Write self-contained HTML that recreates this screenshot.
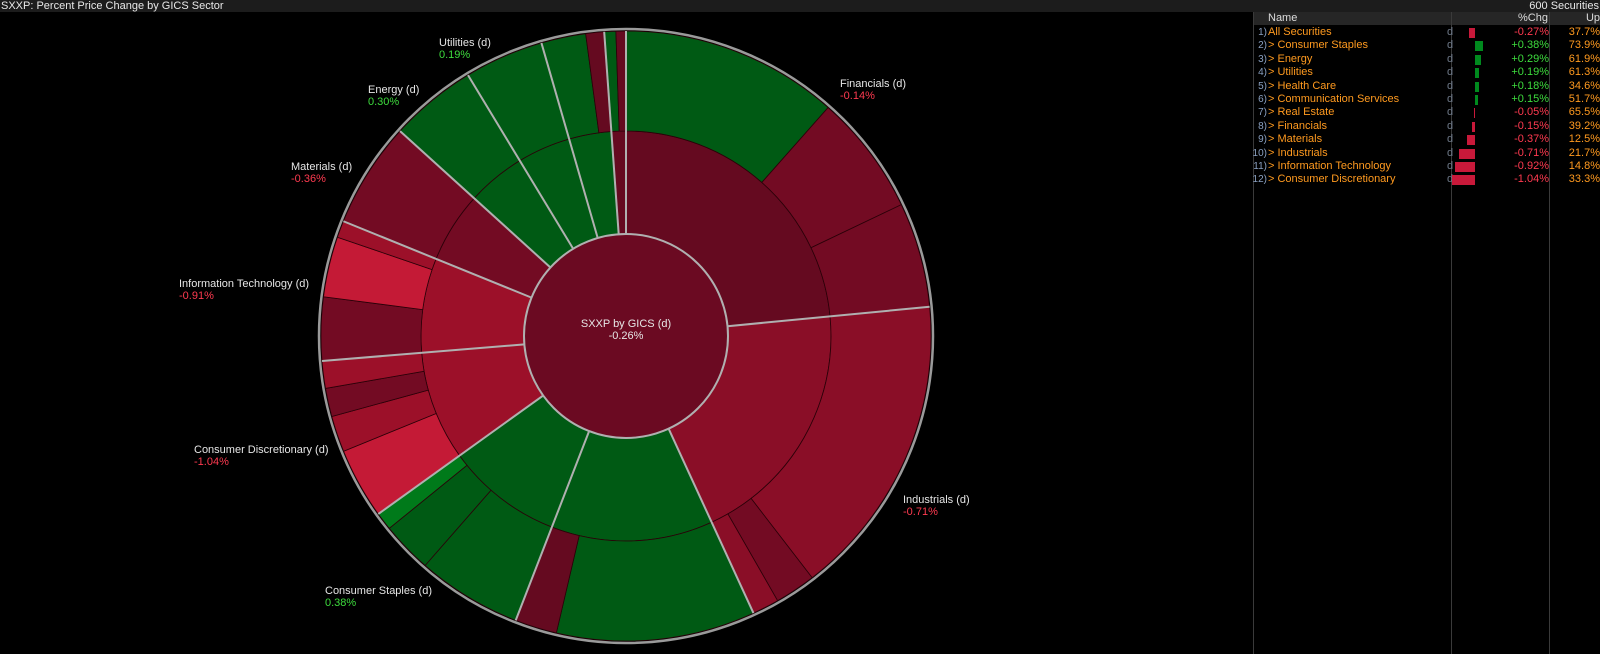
<!DOCTYPE html>
<html><head><meta charset="utf-8"><style>
body{margin:0;background:#000;width:1600px;height:654px;overflow:hidden;font-family:"Liberation Sans",sans-serif;position:relative}
.hdr{position:absolute;left:0;top:0;width:1600px;height:12px;background:#1c1c1c;color:#e8e8e8;font-size:11px;line-height:12px}
.lbl{position:absolute;font-size:11px;line-height:12px;color:#e6e6e6;white-space:nowrap}
.pos{color:#3ddc3d}.neg{color:#ff3a50}
#tbl{position:absolute;left:1253px;top:12px;width:347px;height:642px;border-left:1px solid #3a3a3a;font-size:11px}
.row{position:absolute;left:0;width:347px;height:13px;line-height:13px}
.c{position:absolute;white-space:nowrap}
</style></head><body>
<div class="hdr"><span style="position:absolute;left:1px">SXXP: Percent Price Change by GICS Sector</span><span style="position:absolute;right:1px">600 Securities</span></div>
<svg id="sun" width="1250" height="654" style="position:absolute;left:0;top:0"></svg>
<div class="lbl" style="left:439px;top:37px">Utilities (d)<br><span class="pos">0.19%</span></div>
<div class="lbl" style="left:368px;top:84px">Energy (d)<br><span class="pos">0.30%</span></div>
<div class="lbl" style="left:291px;top:161px">Materials (d)<br><span class="neg">-0.36%</span></div>
<div class="lbl" style="left:179px;top:278px">Information Technology (d)<br><span class="neg">-0.91%</span></div>
<div class="lbl" style="left:194px;top:444px">Consumer Discretionary (d)<br><span class="neg">-1.04%</span></div>
<div class="lbl" style="left:325px;top:585px">Consumer Staples (d)<br><span class="pos">0.38%</span></div>
<div class="lbl" style="left:840px;top:78px">Financials (d)<br><span class="neg">-0.14%</span></div>
<div class="lbl" style="left:903px;top:494px">Industrials (d)<br><span class="neg">-0.71%</span></div>
<div class="lbl" style="left:626px;top:318px;transform:translateX(-50%);text-align:center">SXXP by GICS (d)<br>-0.26%</div>
<div id="tbl"></div>
<script>
// sunburst data
const sectorSpans=[84.5,70.8,45.9,33.1,31,26.8,20.1,16.6,15.1,12,4.1];
const sectorChanges=[-0.14,-0.71,0.18,0.38,-1.04,-0.91,-0.36,0.29,0.19,0.15,-0.05];
const childSpans=[[41.5,23,20],[57.9,7.8,5.1],[37.9,8],[20,9.7,3.4],[13.5,6.9,5.4,5.2],[12.1,11.5,3.2],[20.1],[16.6],[15.1],[8.5,3.5],[2.2,1.9]];
const childChanges=[[0.3,-0.4,-0.3],[-0.75,-0.45,-0.7],[0.2,-0.1],[0.3,0.3,0.6],[-1.5,-1.0,-0.3,-1.1],[-0.3,-1.6,-1.0],[-0.36],[0.3],[0.2],[0.2,-0.1],[0.1,-0.1]];
const totalChange=-0.26;
const CX=626,CY=336,R1=102,R2=205,R3=305;
function col(v){if(v>=0.5)return'#007a1a';if(v>0)return'#005a14';if(v>-0.2)return'#650a20';if(v>-0.5)return'#730b23';if(v>-0.85)return'#8a0e27';if(v>-1.3)return'#9c1029';return'#c41a36';}
function pt(a,r){const t=(a-90)*Math.PI/180;return[CX+r*Math.cos(t),CY+r*Math.sin(t)];}
function arc(a0,a1,r0,r1){const p0=pt(a0,r1),p1=pt(a1,r1),p2=pt(a1,r0),p3=pt(a0,r0);const l=(a1-a0)>180?1:0;
return `M${p0[0]},${p0[1]}A${r1},${r1} 0 ${l} 1 ${p1[0]},${p1[1]}L${p2[0]},${p2[1]}A${r0},${r0} 0 ${l} 0 ${p3[0]},${p3[1]}Z`;}
const svg=document.getElementById('sun');const NS='http://www.w3.org/2000/svg';
function mk(tag,attrs){const e=document.createElementNS(NS,tag);for(const k in attrs)e.setAttribute(k,attrs[k]);svg.appendChild(e);return e;}
const tot=sectorSpans.reduce((a,b)=>a+b,0);
let a=0;const bounds=[];
sectorSpans.forEach((s,i)=>{const a0=a,a1=a+s/tot*360;bounds.push(a0);
 const m=mk('path',{d:arc(a0,a1,R1,R2),fill:col(sectorChanges[i]),stroke:'#2a0008','stroke-width':0.8});
 
 
 const cs=childSpans[i],ct=cs.reduce((x,y)=>x+y,0);let b=a0;
 cs.forEach((c,j)=>{const b1=b+c/ct*(a1-a0);
  const o=mk('path',{d:arc(b,b1,R2,R3),fill:col(childChanges[i][j]),stroke:'#2a0008','stroke-width':0.8});
  
  
  b=b1;});
 a=a1;});
bounds.forEach(b=>{const p=pt(b,R1),q=pt(b,R3);const l=mk('line',{x1:p[0],y1:p[1],x2:q[0],y2:q[1],stroke:'#b0b0b0','stroke-width':2});
 
 });
const cc=mk('circle',{cx:CX,cy:CY,r:R1,fill:'#6b0a22',stroke:'#b0b0b0','stroke-width':2});


const oc=mk('circle',{cx:CX,cy:CY,r:R3+2,fill:'none',stroke:'#9a9a9a','stroke-width':2.5});



// table data
const rowNames=['All Securities','Consumer Staples','Energy','Utilities','Health Care','Communication Services','Real Estate','Financials','Materials','Industrials','Information Technology','Consumer Discretionary'];
const rowChg=[-0.27,0.38,0.29,0.19,0.18,0.15,-0.05,-0.15,-0.37,-0.71,-0.92,-1.04];
const rowUp=[37.7,73.9,61.9,61.3,34.6,51.7,65.5,39.2,12.5,21.7,14.8,33.3];
const T=document.getElementById('tbl');
T.innerHTML='<div style="position:absolute;left:0;top:0;width:347px;height:13px;background:#262626"></div><div style="position:absolute;left:197px;top:0;width:1px;height:642px;background:#3a3a3a"></div><div style="position:absolute;left:295px;top:0;width:1px;height:642px;background:#3a3a3a"></div>'+
'<div class="c" style="left:14px;top:0;line-height:13px;color:#ddd">Name</div><div class="c" style="right:53px;top:0;line-height:13px;color:#ddd">%Chg</div><div class="c" style="right:1px;top:0;line-height:13px;color:#ddd">Up</div>';
rowNames.forEach((n,i)=>{const r=document.createElement('div');r.className='row';r.style.top=(14+i*13.4)+'px';
 
 
 const v=rowChg[i],w=Math.abs(v)*22,cls=v>=0?'#008a1e':'#c8193a';
 const bar=v>=0?`left:221px;width:${w}px`:`left:${221-w}px;width:${w}px`;
 r.innerHTML=`<span class="c" style="right:334px;color:#8aa0c0;font-size:10px">${i+1})</span><span class="c" style="left:14px;color:#ff9a1f">${i?'&gt; ':''}${n}</span><span class="c" style="left:193px;color:#6f7a8a">d</span><span class="c" style="${bar};top:2px;height:10px;background:${cls}"></span><span class="c" style="right:52px;color:${v>=0?'#3ddc3d':'#ff3a50'}">${v>=0?'+':''}${v.toFixed(2)}%</span><span class="c" style="right:1px;color:#ff9a1f">${rowUp[i].toFixed(1)}%</span>`;
 T.appendChild(r);});
</script>
</body></html>
